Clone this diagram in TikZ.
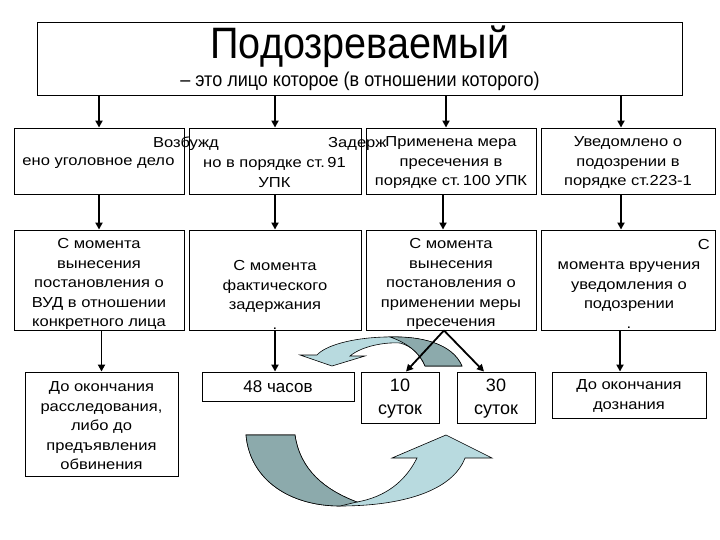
\documentclass[tikz,border=0pt]{standalone}
\usepackage{fontspec}
\setmainfont{Liberation Sans}
\newfontfamily\widefont[FakeStretch=1.14]{Liberation Sans}
\newfontfamily\narrowfont[FakeStretch=0.9]{Liberation Sans}
\usetikzlibrary{arrows.meta,calc}
\definecolor{lightband}{RGB}{184,218,223}
\definecolor{darkband}{RGB}{140,170,172}
\tikzset{
  box/.style={draw=black,line width=0.9pt,inner sep=0pt},
  txt/.style={align=center,inner sep=0pt,font=\widefont\fontsize{14.5}{19.5}\selectfont},
  arr/.style={draw=black,line width=1.8pt,-{Triangle[length=7pt,width=7pt]}},
  band/.style={draw=black,line width=0.6pt}
}
\begin{document}
\begin{tikzpicture}[x=1pt,y=-1pt]
\useasboundingbox (0,0) rectangle (720,540);
% top box
\node[box,minimum width=645pt,minimum height=73pt] (top) at (359.5,58.5) {};
\node[inner sep=0pt,font=\narrowfont\fontsize{44}{48}\selectfont] (title) at (360,47) {Подозреваемый};
\node[inner sep=0pt,font=\narrowfont\fontsize{20}{22}\selectfont] (sub) at (360,81) {– это лицо которое (в отношении которого)};
% row 1
\node[box,minimum width=170pt,minimum height=66pt] (r1a) at (99,161) {};
\node[box,minimum width=172pt,minimum height=66pt] (r1b) at (275,161) {};
\node[box,minimum width=170pt,minimum height=66pt,txt] (r1c) at (451,161) {};
\node[box,minimum width=174pt,minimum height=66pt] (r1d) at (628,161) {};
\node[txt,anchor=east] (r1a1) at (219,144) {Возбужд};
\node[txt] (r1a2) at (98.5,163) {ено уголовное дело};
\node[txt,anchor=west] (r1b1) at (328,144) {Задерж};
\node[txt] (r1b2) at (274.5,172.5) {но в порядке ст.\,91\\УПК};
\node[txt] (r1c1) at (451,163) {Применена мера\\пресечения в\\порядке ст.\,100 УПК};
\node[txt] (r1d1) at (628,163) {Уведомлено о\\подозрении в\\порядке ст.223-1};
% row 2
\node[box,minimum width=170pt,minimum height=100pt] (r2a) at (99,280) {};
\node[box,minimum width=172pt,minimum height=100pt] (r2b) at (275,280) {};
\node[box,minimum width=170pt,minimum height=100pt] (r2c) at (451,280) {};
\node[box,minimum width=174pt,minimum height=100pt] (r2d) at (628,280) {};
\node[txt] (r2a1) at (99,284) {С момента\\вынесения\\постановления о\\ВУД в отношении\\конкретного лица};
\node[txt] (r2b1) at (275,295) {С момента\\фактического\\задержания\\.};
\node[txt] (r2c1) at (451,284) {С момента\\вынесения\\постановления о\\применении меры\\пресечения};
\node[txt,anchor=east] (r2d0) at (710,245) {С};
\node[txt] (r2d1) at (629,295) {момента вручения\\уведомления о\\подозрении\\.};
% row 3
\node[box,minimum width=153pt,minimum height=104pt] (r3a) at (101.5,424) {};
\node[box,minimum width=152pt,minimum height=29pt] (r3b) at (278,386.5) {};
\node[box,minimum width=78pt,minimum height=51pt] (r3c) at (400,397.5) {};
\node[box,minimum width=78pt,minimum height=51pt] (r3d) at (496,397.5) {};
\node[box,minimum width=154pt,minimum height=46pt] (r3e) at (629,395) {};
\node[txt] (r3a1) at (101.5,426) {До окончания\\расследования,\\либо до\\предъявления\\обвинения};
\node[txt,font=\fontsize{17}{20}\selectfont] (r3b1) at (278,387) {48 часов};
\node[txt,font=\fontsize{18}{23}\selectfont] (r3c1) at (400,399) {10\\суток};
\node[txt,font=\fontsize{18}{23}\selectfont] (r3d1) at (496,399) {30\\суток};
\node[txt] (r3e1) at (629,396) {До окончания\\дознания};
% curved arrows
\fill[lightband,band] (462,366) .. controls (452,343) and (420,336) .. (385,337)
  .. controls (350,338) and (325,346) .. (317,355) -- (300,355) -- (332,366) -- (365,356) -- (350,356)
  .. controls (362,346) and (385,342) .. (400,343) .. controls (412,346) and (420,355) .. (425,366) -- cycle;
\fill[darkband,band] (462,366) .. controls (452,343) and (420,336) .. (390,337)
  .. controls (405,342) and (420,352) .. (425,366) -- cycle;
\fill[lightband,band] (246,435) .. controls (250,480) and (290,506) .. (340,506)
  .. controls (400,506) and (452,492) .. (465,458) -- (492,458) -- (446,435) -- (392,458) -- (417,458)
  .. controls (405,482) and (385,497) .. (357,502) .. controls (325,490) and (300,470) .. (295,435) -- cycle;
\fill[darkband,band] (246,435) .. controls (250,480) and (290,506) .. (340,506)
  -- (357,502) .. controls (325,490) and (300,470) .. (295,435) -- cycle;
% arrows
\foreach \n/\s in {r1a/0,r1b/0,r1c/-5,r1d/-7}{
  \draw[arr] ([xshift=\s pt]\n.north |- top.south) -- ([xshift=\s pt]\n.north);
}
\foreach \a/\b/\s in {r1a/r2a/0,r1b/r2b/0,r1c/r2c/-8,r1d/r2d/-7}{
  \draw[arr] ([xshift=\s pt]\a.south) -- ([xshift=\s pt]\b.north);
}
\draw[arr] (r2a.south -| r3a.north) -- (r3a.north);
\draw[arr] (r2b.south) -- (r2b.south |- r3b.north);
\draw[arr] ([xshift=-8pt]r2d.south) -- ([xshift=-8pt]r2d.south |- r3e.north);
\draw[arr] ([xshift=-7pt]r2c.south) -- ([xshift=6pt]r3c.north);
\draw[arr] ([xshift=-7pt]r2c.south) -- ([xshift=-12pt]r3d.north);
\end{tikzpicture}
\end{document}
